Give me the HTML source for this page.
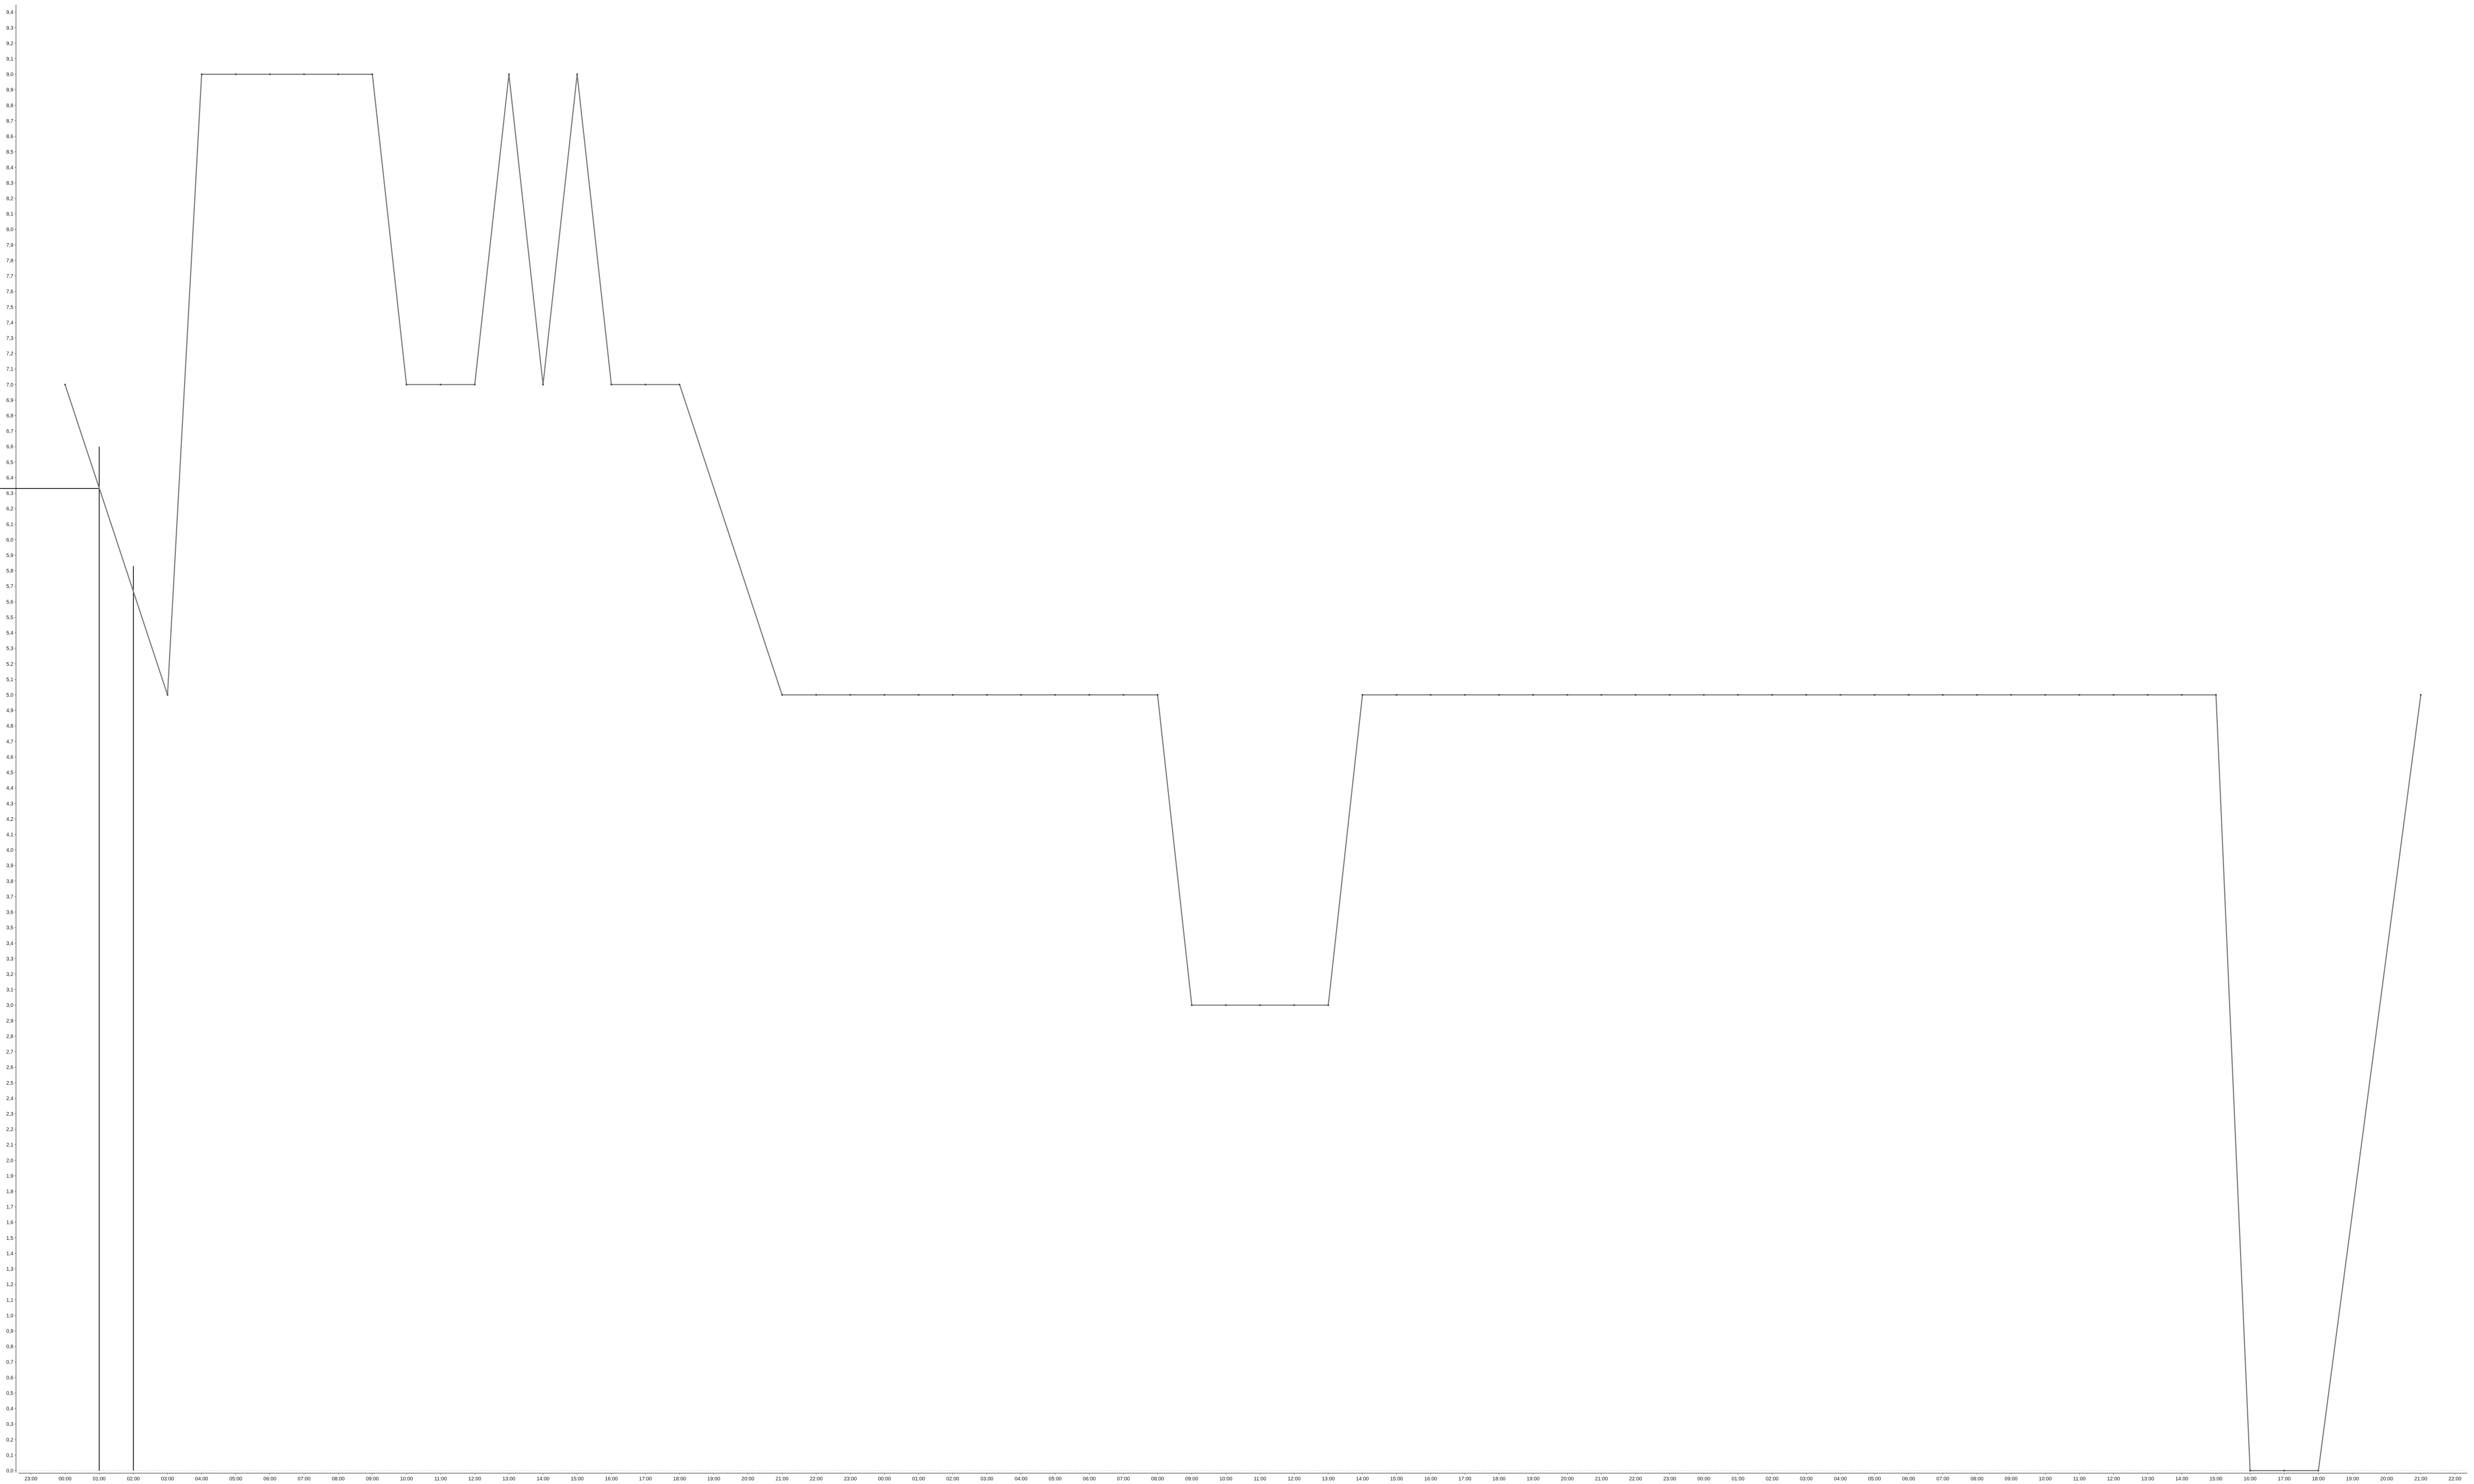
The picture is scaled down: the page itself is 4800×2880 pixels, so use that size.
<!DOCTYPE html>
<html><head><meta charset="utf-8"><style>
html,body{margin:0;padding:0;background:#fff;width:4800px;height:2880px;overflow:hidden}
svg{display:block}
text{font-family:"Liberation Sans",sans-serif;fill:#111}
</style></head><body>
<svg id="chart" width="4800" height="2880" viewBox="0 0 4800 2880" xmlns="http://www.w3.org/2000/svg"></svg>
<script>
const hourLabels = ["23:00","00:00","01:00","02:00","03:00","04:00","05:00","06:00","07:00","08:00","09:00","10:00","11:00","12:00","13:00","14:00","15:00","16:00","17:00","18:00","19:00","20:00","21:00","22:00",
"23:00","00:00","01:00","02:00","03:00","04:00","05:00","06:00","07:00","08:00","09:00","10:00","11:00","12:00","13:00","14:00","15:00","16:00","17:00","18:00","19:00","20:00","21:00","22:00",
"23:00","00:00","01:00","02:00","03:00","04:00","05:00","06:00","07:00","08:00","09:00","10:00","11:00","12:00","13:00","14:00","15:00","16:00","17:00","18:00","19:00","20:00","21:00","22:00"];
// series values per hour index (null = no sample)
const seriesValues = [null,7.0,null,null,5.0,9.0,9.0,9.0,9.0,9.0,9.0,7.0,7.0,7.0,9.0,7.0,9.0,7.0,7.0,7.0,null,null,5.0,5.0,
5.0,5.0,5.0,5.0,5.0,5.0,5.0,5.0,5.0,5.0,3.0,3.0,3.0,3.0,3.0,5.0,5.0,5.0,5.0,5.0,5.0,5.0,5.0,5.0,
5.0,5.0,5.0,5.0,5.0,5.0,5.0,5.0,5.0,5.0,5.0,5.0,5.0,5.0,5.0,5.0,5.0,0.0,0.0,0.0,null,null,5.0,null];
const markerIndex = [2,3];
const markerTops = [6.6,5.83];
const crossValue = [6.33];
const yMax = 9.4, yStep = 0.1;

const NS="http://www.w3.org/2000/svg";
const svg=document.getElementById('chart');
const X0=60, DX=66.24, Y0=2854, PY=301.1;
function xs(i){return X0+i*DX;}
function ys(v){return Y0-v*PY;}
function mk(tag,attrs){const e=document.createElementNS(NS,tag);for(const k in attrs)e.setAttribute(k,attrs[k]);svg.appendChild(e);return e;}

// baseline grid
let g=mk('line',{x1:31,y1:Y0,x2:4787,y2:Y0,stroke:'#ccc','stroke-width':1,'stroke-dasharray':'3,3'});


// y axis
let ya=mk('line',{x1:31,y1:9,x2:31,y2:2858,stroke:'#777','stroke-width':1.5});


const nY=Math.round(yMax/yStep);
for(let k=0;k<=nY;k++){
  const v=k*yStep,y=ys(v);
  const t=mk('line',{x1:28,y1:y,x2:31,y2:y,stroke:'#777','stroke-width':1});
  
  
  const l=mk('text',{x:26,y:y+3.5,'font-size':10,'text-anchor':'end'});
  l.textContent=v.toFixed(1).replace('.',',');
  
  
}
// x axis
let xa=mk('line',{x1:36,y1:2859,x2:4787,y2:2859,stroke:'#777','stroke-width':1.5});


hourLabels.forEach((h,i)=>{
  const x=xs(i);
  const t=mk('line',{x1:x,y1:2859,x2:x,y2:2862,stroke:'#777','stroke-width':1});
  
  
  const l=mk('text',{x:x,y:2873,'font-size':10,'text-anchor':'middle'});
  l.textContent=h;
  
  
});
// crosshair markers
markerIndex.forEach((mi,j)=>{
  const v=mk('line',{x1:xs(mi),y1:ys(0),x2:xs(mi),y2:ys(markerTops[j]),stroke:'#000','stroke-width':1.5});
  
  
});
const hz=mk('line',{x1:0,y1:ys(crossValue[0]),x2:xs(markerIndex[0]),y2:ys(crossValue[0]),stroke:'#000','stroke-width':1.5});


// series line
const pts=[];
seriesValues.forEach((v,i)=>{if(v!==null)pts.push(xs(i).toFixed(1)+','+ys(v).toFixed(1));});
const pl=mk('polyline',{points:pts.join(' '),fill:'none',stroke:'#7a7a7a','stroke-width':2.2,'stroke-linejoin':'miter'});


seriesValues.forEach((v,i)=>{
  if(v===null)return;
  const d=mk('rect',{x:xs(i)-1.5,y:ys(v)-1.5,width:3,height:3,fill:'#444'});
  
  
});
</script>
</body></html>
